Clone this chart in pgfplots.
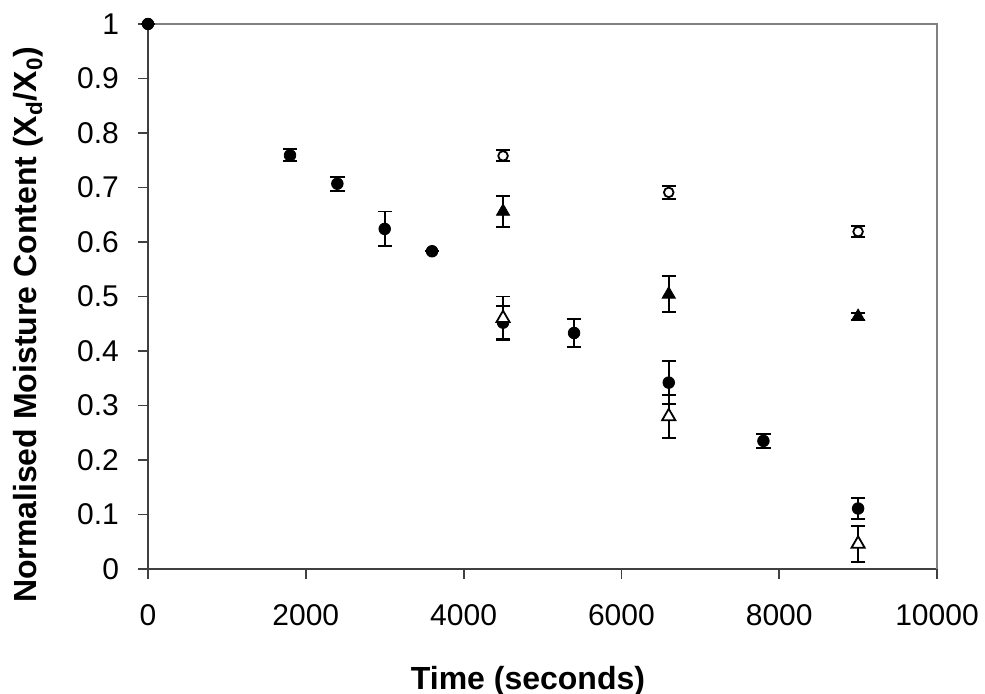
\documentclass[border=0pt]{standalone}
\usepackage{fontspec}
\setmainfont{Liberation Sans}
\usepackage{pgfplots}
\pgfplotsset{compat=1.18}
\pgfplotsset{
  myerr/.style={
    error bars/y dir=both, error bars/y explicit,
    error bars/error bar style={line width=0.95pt, black},
    error bars/error mark options={rotate=90, mark size=3.6pt, line width=0.95pt, black}
  }
}
\begin{document}
\begin{tikzpicture}
\begin{axis}[
 at={(0,0)}, anchor=south west,
 scale only axis, width=394.5pt, height=272.5pt,
 xmin=0, xmax=10000, ymin=0, ymax=1,
 axis lines=left,
 axis line style={-, draw=black!75, line width=0.9pt},
 tick align=outside, major tick length=5pt,
 tick style={draw=black!75, line width=0.9pt},
 xtick={0,2000,4000,6000,8000,10000},
 ytick={0,0.1,0.2,0.3,0.4,0.5,0.6,0.7,0.8,0.9,1},
 yticklabels={0,0.1,0.2,0.3,0.4,0.5,0.6,0.7,0.8,0.9,1},
 scaled x ticks=false,
 /pgf/number format/1000 sep={},
 /pgf/number format/assume math mode=true,
 ticklabel style={font=\fontsize{15}{17}\selectfont},
 xticklabel style={yshift=-9pt},
 yticklabel style={xshift=-6pt},
 xlabel={Time (seconds)},
 ylabel={Normalised Moisture Content (X\textsubscript{d}/X\textsubscript{0})},
 label style={font=\bfseries\fontsize{16}{19}\selectfont},
 xlabel style={at={(axis description cs:0.4816,-0.2202)}, anchor=base},
 ylabel style={at={(axis description cs:-0.1407,0.448)}, anchor=base},
 clip=false,
]
\draw[black!50, line width=0.9pt] (rel axis cs:0,1) -- (rel axis cs:1,1) -- (rel axis cs:1,0);
% filled circles
\addplot[myerr, only marks, mark=*, mark size=2.9pt, black] coordinates {
 (0,1) +- (0,0)
 (1800,0.759) +- (0,0.011)
 (2400,0.707) +- (0,0.013)
 (3000,0.624) +- (0,0.032)
 (3600,0.583) +- (0,0)
 (4500,0.452) +- (0,0.03)
 (5400,0.433) +- (0,0.025)
 (6600,0.342) +- (0,0.04)
 (7800,0.235) +- (0,0.013)
 (9000,0.111) +- (0,0.02)
};
% open circles
\addplot[myerr, only marks, mark=*, mark size=2.4pt, black, mark options={fill=white, line width=0.9pt}] coordinates {
 (4500,0.758) +- (0,0.01)
 (6600,0.691) +- (0,0.012)
 (9000,0.619) +- (0,0.01)
};
% filled triangles
\addplot[myerr, only marks, mark=triangle*, mark size=3.8pt, black] coordinates {
 (4500,0.656) +- (0,0.028)
 (6600,0.504) +- (0,0.033)
 (9000,0.463) +- (0,0.006)
};
% open triangles
\addplot[myerr, only marks, mark=triangle*, mark size=3.8pt, black, mark options={fill=white, line width=0.9pt}] coordinates {
 (4500,0.46) +- (0,0.04)
 (6600,0.28) +- (0,0.04)
 (9000,0.046) +- (0,0.033)
};
\end{axis}
\pgfresetboundingbox
\path[use as bounding box] (-74pt,-62.5pt) rectangle (418.5pt,284.5pt);
\end{tikzpicture}
\end{document}
